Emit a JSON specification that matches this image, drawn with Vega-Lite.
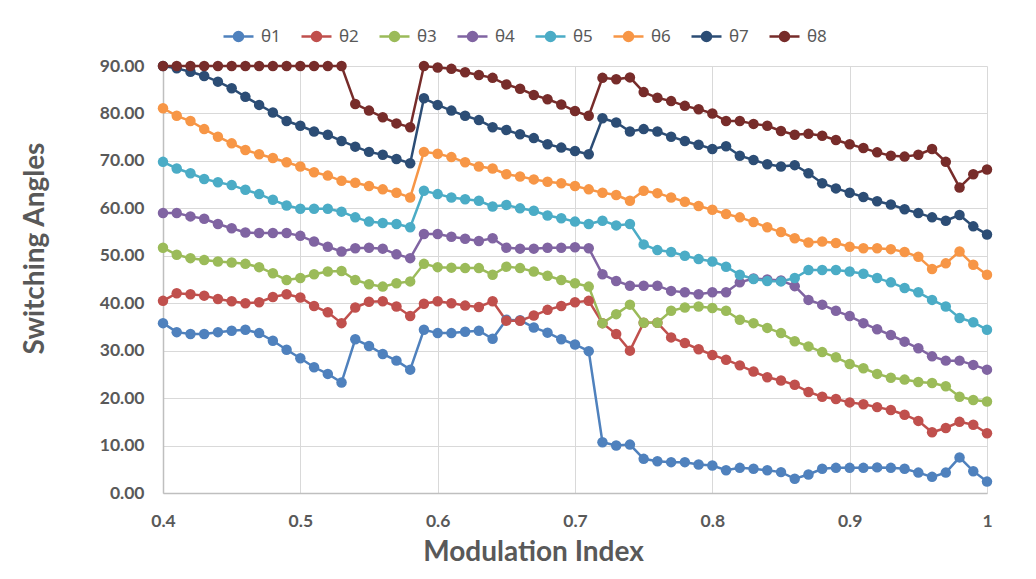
{
  "$schema": "https://vega.github.io/schema/vega-lite/v6.json",
  "width": 824,
  "height": 427,
  "autosize": {"type": "none"},
  "padding": {"left": 163, "top": 66, "right": 49, "bottom": 86},
  "background": "white",
  "data": {
    "values": [
      {"m": 0.40, "θ1": 35.8, "θ2": 40.5, "θ3": 51.7, "θ4": 59.0, "θ5": 69.8, "θ6": 81.1, "θ7": 90.0, "θ8": 90.0},
      {"m": 0.41, "θ1": 33.9, "θ2": 42.1, "θ3": 50.2, "θ4": 59.0, "θ5": 68.4, "θ6": 79.5, "θ7": 89.5, "θ8": 90.0},
      {"m": 0.42, "θ1": 33.5, "θ2": 41.9, "θ3": 49.5, "θ4": 58.3, "θ5": 67.4, "θ6": 78.4, "θ7": 88.8, "θ8": 90.0},
      {"m": 0.43, "θ1": 33.5, "θ2": 41.6, "θ3": 49.1, "θ4": 57.8, "θ5": 66.2, "θ6": 76.7, "θ7": 87.9, "θ8": 90.0},
      {"m": 0.44, "θ1": 33.9, "θ2": 40.9, "θ3": 48.8, "θ4": 56.7, "θ5": 65.5, "θ6": 75.1, "θ7": 86.7, "θ8": 90.0},
      {"m": 0.45, "θ1": 34.2, "θ2": 40.4, "θ3": 48.6, "θ4": 55.8, "θ5": 64.9, "θ6": 73.7, "θ7": 85.3, "θ8": 90.0},
      {"m": 0.46, "θ1": 34.4, "θ2": 40.0, "θ3": 48.3, "θ4": 54.9, "θ5": 63.9, "θ6": 72.3, "θ7": 83.5, "θ8": 90.0},
      {"m": 0.47, "θ1": 33.7, "θ2": 40.2, "θ3": 47.6, "θ4": 54.8, "θ5": 63.0, "θ6": 71.4, "θ7": 81.8, "θ8": 90.0},
      {"m": 0.48, "θ1": 32.1, "θ2": 41.3, "θ3": 46.3, "θ4": 54.8, "θ5": 61.8, "θ6": 70.6, "θ7": 80.2, "θ8": 90.0},
      {"m": 0.49, "θ1": 30.2, "θ2": 41.9, "θ3": 44.9, "θ4": 54.8, "θ5": 60.6, "θ6": 69.7, "θ7": 78.4, "θ8": 90.0},
      {"m": 0.50, "θ1": 28.4, "θ2": 41.2, "θ3": 45.3, "θ4": 54.2, "θ5": 59.9, "θ6": 68.8, "θ7": 77.4, "θ8": 90.0},
      {"m": 0.51, "θ1": 26.5, "θ2": 39.4, "θ3": 46.1, "θ4": 53.0, "θ5": 59.9, "θ6": 67.6, "θ7": 76.2, "θ8": 90.0},
      {"m": 0.52, "θ1": 25.1, "θ2": 38.1, "θ3": 46.7, "θ4": 51.9, "θ5": 59.9, "θ6": 66.9, "θ7": 75.5, "θ8": 90.0},
      {"m": 0.53, "θ1": 23.3, "θ2": 35.8, "θ3": 46.8, "θ4": 50.9, "θ5": 59.3, "θ6": 65.8, "θ7": 74.2, "θ8": 90.0},
      {"m": 0.54, "θ1": 32.4, "θ2": 39.1, "θ3": 44.9, "θ4": 51.6, "θ5": 58.1, "θ6": 65.4, "θ7": 73.0, "θ8": 82.0},
      {"m": 0.55, "θ1": 31.0, "θ2": 40.3, "θ3": 44.0, "θ4": 51.7, "θ5": 57.2, "θ6": 64.7, "θ7": 71.9, "θ8": 80.6},
      {"m": 0.56, "θ1": 29.3, "θ2": 40.4, "θ3": 43.5, "θ4": 51.5, "θ5": 56.9, "θ6": 64.0, "θ7": 71.3, "θ8": 79.2},
      {"m": 0.57, "θ1": 27.9, "θ2": 39.3, "θ3": 44.2, "θ4": 50.3, "θ5": 56.7, "θ6": 63.3, "θ7": 70.4, "θ8": 77.9},
      {"m": 0.58, "θ1": 26.0, "θ2": 37.3, "θ3": 44.6, "θ4": 49.5, "θ5": 56.0, "θ6": 62.3, "θ7": 69.5, "θ8": 77.1},
      {"m": 0.59, "θ1": 34.4, "θ2": 39.9, "θ3": 48.3, "θ4": 54.6, "θ5": 63.7, "θ6": 71.9, "θ7": 83.2, "θ8": 90.0},
      {"m": 0.60, "θ1": 33.7, "θ2": 40.4, "θ3": 47.6, "θ4": 54.6, "θ5": 63.0, "θ6": 71.5, "θ7": 81.8, "θ8": 89.7},
      {"m": 0.61, "θ1": 33.7, "θ2": 40.0, "θ3": 47.5, "θ4": 54.0, "θ5": 62.3, "θ6": 70.8, "θ7": 80.6, "θ8": 89.4},
      {"m": 0.62, "θ1": 34.0, "θ2": 39.5, "θ3": 47.4, "θ4": 53.6, "θ5": 61.9, "θ6": 69.7, "θ7": 79.5, "θ8": 88.7},
      {"m": 0.63, "θ1": 34.2, "θ2": 39.2, "θ3": 47.4, "θ4": 53.1, "θ5": 61.6, "θ6": 68.8, "θ7": 78.6, "θ8": 88.1},
      {"m": 0.64, "θ1": 32.5, "θ2": 40.4, "θ3": 46.0, "θ4": 53.7, "θ5": 60.4, "θ6": 68.4, "θ7": 77.1, "θ8": 87.5},
      {"m": 0.65, "θ1": 36.5, "θ2": 36.3, "θ3": 47.7, "θ4": 51.7, "θ5": 60.7, "θ6": 67.2, "θ7": 76.5, "θ8": 86.1},
      {"m": 0.66, "θ1": 36.4, "θ2": 36.3, "θ3": 47.4, "θ4": 51.5, "θ5": 60.0, "θ6": 66.7, "θ7": 75.6, "θ8": 85.2},
      {"m": 0.67, "θ1": 34.9, "θ2": 37.4, "θ3": 46.7, "θ4": 51.5, "θ5": 59.5, "θ6": 66.1, "θ7": 74.8, "θ8": 83.9},
      {"m": 0.68, "θ1": 33.8, "θ2": 38.6, "θ3": 45.8, "θ4": 51.7, "θ5": 58.5, "θ6": 65.6, "θ7": 73.5, "θ8": 83.0},
      {"m": 0.69, "θ1": 32.4, "θ2": 39.4, "θ3": 44.9, "θ4": 51.7, "θ5": 57.9, "θ6": 65.3, "θ7": 72.8, "θ8": 81.9},
      {"m": 0.70, "θ1": 31.3, "θ2": 40.2, "θ3": 44.2, "θ4": 51.8, "θ5": 57.2, "θ6": 64.7, "θ7": 72.1, "θ8": 80.5},
      {"m": 0.71, "θ1": 29.9, "θ2": 40.5, "θ3": 43.5, "θ4": 51.6, "θ5": 56.7, "θ6": 64.0, "θ7": 71.4, "θ8": 79.5},
      {"m": 0.72, "θ1": 10.7, "θ2": 35.8, "θ3": 35.8, "θ4": 46.1, "θ5": 57.4, "θ6": 63.3, "θ7": 79.0, "θ8": 87.5},
      {"m": 0.73, "θ1": 10.0, "θ2": 33.5, "θ3": 37.7, "θ4": 44.7, "θ5": 56.4, "θ6": 62.8, "θ7": 78.1, "θ8": 87.2},
      {"m": 0.74, "θ1": 10.2, "θ2": 30.0, "θ3": 39.7, "θ4": 43.7, "θ5": 56.7, "θ6": 61.6, "θ7": 76.2, "θ8": 87.6},
      {"m": 0.75, "θ1": 7.2, "θ2": 35.9, "θ3": 35.9, "θ4": 43.7, "θ5": 52.4, "θ6": 63.7, "θ7": 76.7, "θ8": 84.5},
      {"m": 0.76, "θ1": 6.7, "θ2": 35.9, "θ3": 35.9, "θ4": 43.7, "θ5": 51.2, "θ6": 63.2, "θ7": 76.2, "θ8": 83.3},
      {"m": 0.77, "θ1": 6.5, "θ2": 32.8, "θ3": 38.4, "θ4": 42.6, "θ5": 50.8, "θ6": 62.3, "θ7": 75.1, "θ8": 82.6},
      {"m": 0.78, "θ1": 6.5, "θ2": 31.6, "θ3": 39.1, "θ4": 42.3, "θ5": 50.0, "θ6": 61.4, "θ7": 74.2, "θ8": 81.6},
      {"m": 0.79, "θ1": 6.0, "θ2": 30.3, "θ3": 39.3, "θ4": 41.9, "θ5": 49.3, "θ6": 60.5, "θ7": 73.4, "θ8": 80.9},
      {"m": 0.80, "θ1": 5.8, "θ2": 29.1, "θ3": 39.0, "θ4": 42.3, "θ5": 48.8, "θ6": 59.7, "θ7": 72.5, "θ8": 80.0},
      {"m": 0.81, "θ1": 4.8, "θ2": 28.1, "θ3": 38.4, "θ4": 42.3, "θ5": 47.7, "θ6": 58.8, "θ7": 73.1, "θ8": 78.4},
      {"m": 0.82, "θ1": 5.3, "θ2": 26.9, "θ3": 36.5, "θ4": 44.4, "θ5": 46.0, "θ6": 58.1, "θ7": 71.1, "θ8": 78.4},
      {"m": 0.83, "θ1": 5.1, "θ2": 25.6, "θ3": 35.8, "θ4": 45.2, "θ5": 45.1, "θ6": 57.1, "θ7": 70.2, "θ8": 77.8},
      {"m": 0.84, "θ1": 4.8, "θ2": 24.4, "θ3": 34.8, "θ4": 45.0, "θ5": 44.7, "θ6": 56.0, "θ7": 69.3, "θ8": 77.4},
      {"m": 0.85, "θ1": 4.4, "θ2": 23.7, "θ3": 33.7, "θ4": 44.8, "θ5": 44.6, "θ6": 55.0, "θ7": 68.8, "θ8": 76.3},
      {"m": 0.86, "θ1": 3.0, "θ2": 22.8, "θ3": 32.0, "θ4": 43.6, "θ5": 45.3, "θ6": 53.7, "θ7": 69.1, "θ8": 75.5},
      {"m": 0.87, "θ1": 3.9, "θ2": 21.3, "θ3": 30.9, "θ4": 40.7, "θ5": 47.0, "θ6": 52.8, "θ7": 67.4, "θ8": 75.7},
      {"m": 0.88, "θ1": 5.1, "θ2": 20.3, "θ3": 29.7, "θ4": 39.7, "θ5": 47.0, "θ6": 53.0, "θ7": 65.3, "θ8": 75.3},
      {"m": 0.89, "θ1": 5.3, "θ2": 19.8, "θ3": 28.6, "θ4": 38.4, "θ5": 47.0, "θ6": 52.7, "θ7": 64.2, "θ8": 74.4},
      {"m": 0.90, "θ1": 5.3, "θ2": 19.1, "θ3": 27.2, "θ4": 37.3, "θ5": 46.7, "θ6": 51.9, "θ7": 63.3, "θ8": 73.5},
      {"m": 0.91, "θ1": 5.3, "θ2": 18.7, "θ3": 26.3, "θ4": 35.8, "θ5": 46.2, "θ6": 51.6, "θ7": 62.4, "θ8": 72.7},
      {"m": 0.92, "θ1": 5.4, "θ2": 18.1, "θ3": 25.1, "θ4": 34.5, "θ5": 45.3, "θ6": 51.6, "θ7": 61.5, "θ8": 71.8},
      {"m": 0.93, "θ1": 5.3, "θ2": 17.5, "θ3": 24.3, "θ4": 33.3, "θ5": 44.4, "θ6": 51.4, "θ7": 60.8, "θ8": 71.1},
      {"m": 0.94, "θ1": 5.1, "θ2": 16.5, "θ3": 23.9, "θ4": 31.9, "θ5": 43.2, "θ6": 50.8, "θ7": 59.8, "θ8": 70.9},
      {"m": 0.95, "θ1": 4.3, "θ2": 15.2, "θ3": 23.4, "θ4": 30.5, "θ5": 42.3, "θ6": 49.8, "θ7": 59.0, "θ8": 71.3},
      {"m": 0.96, "θ1": 3.4, "θ2": 12.8, "θ3": 23.2, "θ4": 28.8, "θ5": 40.7, "θ6": 47.2, "θ7": 58.1, "θ8": 72.5},
      {"m": 0.97, "θ1": 4.3, "θ2": 13.7, "θ3": 22.5, "θ4": 27.9, "θ5": 39.3, "θ6": 48.4, "θ7": 57.4, "θ8": 69.8},
      {"m": 0.98, "θ1": 7.5, "θ2": 15.0, "θ3": 20.3, "θ4": 27.9, "θ5": 36.9, "θ6": 50.9, "θ7": 58.6, "θ8": 64.4},
      {"m": 0.99, "θ1": 4.6, "θ2": 14.4, "θ3": 19.6, "θ4": 27.0, "θ5": 36.0, "θ6": 48.1, "θ7": 56.2, "θ8": 67.2},
      {"m": 1.00, "θ1": 2.4, "θ2": 12.6, "θ3": 19.3, "θ4": 26.0, "θ5": 34.4, "θ6": 46.0, "θ7": 54.5, "θ8": 68.2}
    ]
  },
  "transform": [
    {"fold": ["θ1", "θ2", "θ3", "θ4", "θ5", "θ6", "θ7", "θ8"], "as": ["series", "angle"]}
  ],
  "mark": {
    "type": "line",
    "strokeWidth": 2.5,
    "point": {"filled": true, "size": 110, "opacity": 1}
  },
  "encoding": {
    "x": {
      "field": "m",
      "type": "quantitative",
      "scale": {"domain": [0.4, 1.0], "nice": false, "zero": false},
      "axis": {
        "values": [0.4, 0.5, 0.6, 0.7, 0.8, 0.9, 1.0],
        "format": "~g",
        "labelFlush": false,
        "title": "Modulation Index",
        "titleX": 370,
        "titleY": 59,
        "titleBaseline": "middle",
        "labelPadding": 19
      }
    },
    "y": {
      "field": "angle",
      "type": "quantitative",
      "scale": {"domain": [0, 90], "nice": false},
      "axis": {
        "values": [0, 10, 20, 30, 40, 50, 60, 70, 80, 90],
        "format": ".2f",
        "title": "Switching Angles",
        "titleX": -128,
        "titleY": 182,
        "titleAngle": 270,
        "titleBaseline": "middle",
        "labelPadding": 19
      }
    },
    "color": {
      "field": "series",
      "type": "nominal",
      "scale": {
        "domain": ["θ1", "θ2", "θ3", "θ4", "θ5", "θ6", "θ7", "θ8"],
        "range": ["#4F81BD", "#C0504D", "#9BBB59", "#8064A2", "#4BACC6", "#F79646", "#2C4D75", "#772C2A"]
      },
      "legend": {
        "title": null,
        "orient": "none",
        "direction": "horizontal",
        "legendX": 59,
        "legendY": -46,
        "symbolType": "M-1,0H1M0.3,0A0.3,0.3 0 1,1 -0.3,0A0.3,0.3 0 1,1 0.3,0Z",
        "symbolSize": 900,
        "symbolStrokeWidth": 2.5,
        "symbolOpacity": 1,
        "labelFontSize": 17,
        "labelColor": "#595959",
        "labelFont": "Noto Sans",
        "labelOffset": 6,
        "columnPadding": 15
      }
    }
  },
  "config": {
    "view": {"stroke": null},
    "font": "Lato",
    "axis": {
      "grid": true,
      "gridColor": "#d9d9d9",
      "gridWidth": 1,
      "domainColor": "#bfbfbf",
      "domainWidth": 1.5,
      "ticks": false,
      "labelFont": "Lato",
      "labelFontSize": 17.5,
      "labelFontWeight": "bold",
      "labelColor": "#595959",
      "titleFont": "Lato",
      "titleFontSize": 28,
      "titleFontWeight": "bold",
      "titleColor": "#595959"
    }
  }
}
